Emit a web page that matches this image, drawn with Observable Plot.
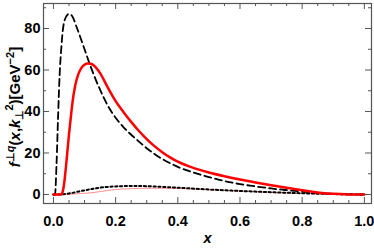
<!DOCTYPE html>
<html><head><meta charset="utf-8">
<script src="https://cdn.jsdelivr.net/npm/d3@7"></script>
<script src="https://cdn.jsdelivr.net/npm/@observablehq/plot@0.6"></script>
<style>body{margin:0;background:#fff}</style>
</head><body><div id="chart"></div>
<script>
const xTicks = [0, 0.2, 0.4, 0.6, 0.8, 1.0];
const xMinor = [0.05,0.1,0.15,0.25,0.3,0.35,0.45,0.5,0.55,0.65,0.7,0.75,0.85,0.9,0.95];
const yTicks = [0, 20, 40, 60, 80];
const yMinor = [10, 30, 50, 70, 90];

const dashedX = [0,0.005,0.01,0.015,0.02,0.025,0.03,0.04,0.05,0.06,0.075,0.1,0.12,0.15,0.175,0.2,0.225,0.25,0.275,0.3,0.325,0.35,0.375,0.4,0.45,0.5,0.55,0.6,0.65,0.7,0.75,0.8,0.85,0.9,0.95,1];
const dashedY = [0,0,15,38,58,70,79,85.5,87,86,80.5,70,61.5,50.5,42.8,37,32.5,28.8,25.5,22.3,19.5,17.1,15.1,13.3,10.6,8.4,6.5,5.0,3.9,2.9,2.1,1.4,0.75,0.3,0.05,0];

const redX = [0,0.025,0.03,0.035,0.04,0.045,0.05,0.055,0.06,0.07,0.08,0.09,0.1,0.11,0.12,0.13,0.15,0.175,0.2,0.225,0.25,0.275,0.3,0.325,0.35,0.375,0.4,0.45,0.5,0.55,0.6,0.65,0.7,0.75,0.8,0.85,0.9,0.95,1];
const redY = [0,0,1.5,6,13,21,29,36,43,52.5,58,61,62.5,63.1,63,62.2,58.5,51.5,45,39.8,35,30.6,26.7,23.3,20.4,17.9,15.8,12.8,10.6,8.8,7.2,5.8,4.5,3.2,2.0,1.0,0.3,0.05,0];

const dotX = [0,0.02,0.05,0.1,0.15,0.2,0.25,0.3,0.4,0.5,0.6,0.7,0.8,0.9,1];
const dotY = [0,0,0.5,2,3.3,3.9,4.1,4.0,3.3,2.4,1.7,1.1,0.6,0.2,0];

const pinkX = [0,0.03,0.06,0.1,0.12,0.15,0.2,0.25,0.3,0.4,0.5,0.6,0.7,0.8,0.9,1];
const pinkY = [0,0,0.2,0.6,0.8,1.4,2.4,2.8,3.0,2.9,2.3,1.7,1.0,0.5,0.15,0];

const zip = (xs, ys) => xs.map((x, i) => ({x, y: ys[i]}));
const W = 374, H = 249, mT = 3, mB = 46, mL = 43, mR = 3;
const ph = H - mT - mB, pw = W - mL - mR;
const font = "Liberation Sans, Arial, sans-serif";

const chart = Plot.plot({
  width: W, height: H,
  marginTop: mT, marginBottom: mB, marginLeft: mL, marginRight: mR,
  style: {fontFamily: font, background: "#fff"},
  x: {domain: [-0.032, 1.023]},
  y: {domain: [-4.34, 92.05]},
  marks: [
    Plot.line(zip(pinkX, pinkY), {x: "x", y: "y", stroke: "#ff8c8c", strokeWidth: 1, curve: "catmull-rom"}),
    Plot.line(zip(dotX, dotY), {x: "x", y: "y", stroke: "#000", strokeWidth: 2, strokeDasharray: "2.2,2.6", curve: "catmull-rom"}),
    Plot.line(zip(dashedX, dashedY), {x: "x", y: "y", stroke: "#000", strokeWidth: 1.8, strokeDasharray: "7,4", curve: "monotone-x"}),
    Plot.line(zip(redX, redY), {x: "x", y: "y", stroke: "#ff0000", strokeWidth: 2.5, curve: "monotone-x"}),
    Plot.tickX(xTicks, {x: d => d, stroke: "#555", insetTop: ph - 6}),
    Plot.tickX(xMinor, {x: d => d, stroke: "#555", insetTop: ph - 3}),
    Plot.tickX(xTicks, {x: d => d, stroke: "#555", insetBottom: ph - 6}),
    Plot.tickX(xMinor, {x: d => d, stroke: "#555", insetBottom: ph - 3}),
    Plot.tickY(yTicks, {y: d => d, stroke: "#555", insetRight: pw - 6}),
    Plot.tickY(yMinor, {y: d => d, stroke: "#555", insetRight: pw - 3}),
    Plot.tickY(yTicks, {y: d => d, stroke: "#555", insetLeft: pw - 6}),
    Plot.tickY(yMinor, {y: d => d, stroke: "#555", insetLeft: pw - 3}),
    Plot.frame({stroke: "#555", strokeWidth: 1.2}),
    Plot.axisX({ticks: xTicks, tickSize: 0, tickPadding: 12, tickFormat: d3.format(".1f"), fontSize: 14.5, fontWeight: "bold", label: null}),
    Plot.axisY({ticks: yTicks, tickSize: 0, tickPadding: 3, fontSize: 14.5, fontWeight: "bold", label: null}),
    Plot.text(["x"], {text: d => d, frameAnchor: "bottom", dy: 39, fontSize: 14.5, fontWeight: "bold", fontStyle: "italic", fill: "#000"})
  ]
});
document.getElementById("chart").append(chart);

// y-axis label with super/subscripts
const svg = d3.select(chart);
const t = svg.append("text")
  .attr("transform", `translate(20,${mT + ph / 2 + 4}) rotate(-90)`)
  .attr("text-anchor", "middle")
  .attr("font-family", font)
  .attr("font-size", 15)
  .attr("font-weight", "bold")
  .attr("fill", "#000");
const parts = [
  {s: "f", it: true},
  {s: "⊥", sup: true},
  {s: "q", sup: true, it: true},
  {s: "("},
  {s: "x", it: true},
  {s: ","},
  {s: "k", it: true},
  {s: "⊥", sub: true},
  {s: "2", sup2: true},
  {s: ")"},
  {s: "[GeV"},
  {s: "−2", sup: true},
  {s: "]"}
];
let cur = 0;
for (const p of parts) {
  let target = 0, fs = 15;
  if (p.sup) { target = -6.5; fs = 11; }
  if (p.sub) { target = 3; fs = 11; }
  if (p.sup2) { target = -7; fs = 11; }
  const ts = t.append("tspan").text(p.s).attr("font-size", fs);
  if (p.it) ts.attr("font-style", "italic");
  if (target !== cur) { ts.attr("dy", target - cur); cur = target; }
  if (p.sup2) ts.attr("dx", -1);
}
</script></body></html>
